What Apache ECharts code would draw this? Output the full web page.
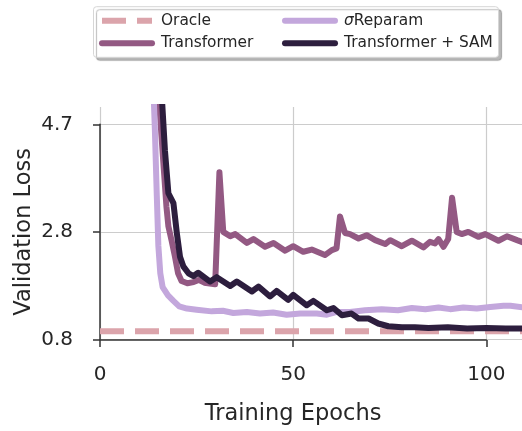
<!DOCTYPE html>
<html><head><meta charset="utf-8">
<script src="https://cdn.jsdelivr.net/npm/echarts@6/dist/echarts.min.js"></script>
<style>html,body{margin:0;padding:0;background:#fff}#c{width:522px;height:431px}</style>
</head><body><div id="c"></div>
<script>
const seriesNames = ['Oracle', 'Transformer', 'σReparam', 'Transformer + SAM'];
const xTicks = [0, 50, 100];
const yTickValues = [0.8, 2.75, 4.7];
const yTickLabels = ['0.8', '2.8', '4.7'];

const oracleEpochs = [0, 109.5];
const oracleLoss = [0.95, 0.95];

const transformerEpochs = [14.0, 15.6, 16.5, 17.2, 17.7, 18.5, 19.4, 20.2, 21.1, 22.6, 24.2, 25.5, 27.0, 29.8,
  30.9, 31.9, 33.7, 35.0, 38.0, 39.7, 42.7, 44.9, 47.9, 50.0, 52.6, 54.8, 58.2, 60.0, 61.2,
  62.1, 63.4, 64.7, 66.9, 69.0, 71.2, 73.8, 75.1, 78.1, 80.7, 83.7, 85.4, 86.7, 87.6, 88.9,
  90.1, 91.1, 92.3, 93.6, 95.3, 97.9, 99.7, 103.1, 105.3, 107.9, 109.5];
const transformerLoss = [6.5, 4.8, 3.9, 3.2, 2.85, 2.6, 2.3, 2.0, 1.86, 1.82, 1.84, 1.88, 1.83, 1.80,
  3.83, 2.75, 2.67, 2.71, 2.55, 2.62, 2.48, 2.55, 2.41, 2.49, 2.39, 2.43, 2.33, 2.42, 2.45,
  3.03, 2.73, 2.71, 2.63, 2.69, 2.60, 2.53, 2.60, 2.49, 2.59, 2.47, 2.57, 2.54, 2.62, 2.48,
  2.62, 3.37, 2.75, 2.71, 2.75, 2.66, 2.71, 2.59, 2.67, 2.60, 2.56];

const reparamEpochs = [13.5, 14.2, 14.7, 15.1, 15.6, 16.2, 17.6, 19.0, 20.5, 22.5, 25.0, 28.9, 31.8, 34.5,
  38.0, 41.4, 44.8, 48.3, 51.8, 56.1, 58.7, 61.3, 64.7, 68.6, 72.9, 77.1, 80.7, 84.2, 87.6,
  90.6, 94.0, 97.5, 101.0, 104.4, 106.2, 109.5];
const reparamLoss = [6.0, 4.6, 3.4, 2.5, 2.0, 1.75, 1.60, 1.50, 1.40, 1.36, 1.34, 1.31, 1.32, 1.28,
  1.30, 1.27, 1.29, 1.25, 1.27, 1.27, 1.25, 1.30, 1.30, 1.33, 1.35, 1.33, 1.37, 1.35, 1.38,
  1.35, 1.38, 1.36, 1.39, 1.41, 1.41, 1.38];

const samEpochs = [15.5, 16.8, 17.7, 19.0, 19.9, 20.7, 21.6, 22.9, 24.2, 25.4, 28.5, 30.2, 33.7, 35.4,
  39.3, 41.0, 44.0, 45.7, 48.7, 50.0, 53.5, 55.2, 58.7, 60.4, 62.6, 65.1, 66.9, 69.5, 72.0,
  74.6, 78.1, 81.5, 85.0, 90.0, 95.0, 100.0, 105.0, 109.5];
const samLoss = [5.8, 4.23, 3.45, 3.27, 2.72, 2.30, 2.12, 2.0, 1.95, 2.01, 1.85, 1.93, 1.77, 1.85,
  1.67, 1.76, 1.58, 1.68, 1.52, 1.61, 1.42, 1.50, 1.33, 1.37, 1.24, 1.27, 1.18, 1.18, 1.09,
  1.04, 1.02, 1.02, 1.01, 1.02, 1.00, 1.01, 1.00, 1.00];

const colors = ['#dba4ab', '#935983', '#c3a7dc', '#2d1e3e'];
const pairs = (xs, ys) => xs.map((x, i) => [x, ys[i]]);
const FONT = 'DejaVu Sans';
const TXT = '#262626';

const chart = echarts.init(document.getElementById('c'), null, {renderer: 'canvas'});
const lineSeries = (name, xs, ys, color, extra) => Object.assign({
  name, type: 'line', xAxisIndex: 0, yAxisIndex: 0, data: pairs(xs, ys),
  symbol: 'none', showSymbol: false, clip: true, animation: false,
  lineStyle: {color, width: 6, cap: 'round', join: 'round'},
  itemStyle: {color}
}, extra || {});

const legendCommon = {
  orient: 'vertical', padding: 0, itemWidth: 50, itemHeight: 16, itemGap: 6.6,
  top: 12.7,
  textStyle: {fontFamily: FONT, fontSize: 15.4, color: TXT, lineHeight: 16, padding: [0, 0, 0, 4],
    rich: {i: {fontFamily: FONT, fontSize: 15.4, fontStyle: 'italic', color: TXT}}},
  lineStyle: {width: 6},
  itemStyle: {opacity: 0},
  formatter: n => n === 'σReparam' ? '{i|σ}Reparam' : n,
  selectedMode: false
};

chart.setOption({
  animation: false,
  backgroundColor: '#fff',
  graphic: [{
    type: 'rect', z: -10,
    shape: {x: 93.5, y: 6.7, width: 405, height: 50.6, r: 3},
    style: {fill: '#fff', stroke: '#d6d6d6', lineWidth: 1,
      shadowColor: 'rgba(0,0,0,0.28)', shadowOffsetX: 3, shadowOffsetY: 3, shadowBlur: 1}
  }],
  legend: [
    Object.assign({}, legendCommon, {left: 99, data: [seriesNames[0], seriesNames[1]]}),
    Object.assign({}, legendCommon, {left: 282, data: [seriesNames[2], seriesNames[3]]})
  ],
  grid: [
    {left: 100, right: 0, top: 107, height: 250},
    {left: 100, top: 107, width: 386.3, height: 250},
    {left: 100, right: 0, top: 124.3, height: 215.2}
  ],
  xAxis: [
    {gridIndex: 0, type: 'value', min: 0, max: 109.2, show: false},
    {gridIndex: 1, type: 'value', min: xTicks[0], max: xTicks[xTicks.length - 1], interval: xTicks[1] - xTicks[0],
      position: 'bottom', offset: 14,
      axisLine: {show: true, lineStyle: {color: '#333', width: 1.5}},
      axisTick: {show: true, inside: false, length: 7, lineStyle: {color: '#333', width: 1.5}},
      axisLabel: {show: true, margin: 11, fontFamily: FONT, fontSize: 20, color: TXT},
      splitLine: {show: true, lineStyle: {color: '#cccccc', width: 1.2}},
      name: 'Training Epochs', nameLocation: 'middle', nameGap: 49, nameMoveOverlap: false,
      nameTextStyle: {fontFamily: FONT, fontSize: 22.5, color: TXT}},
    {gridIndex: 2, type: 'value', min: 0, max: 1, show: false}
  ],
  yAxis: [
    {gridIndex: 0, type: 'value', min: 0.483, max: 5.013, show: false},
    {gridIndex: 1, type: 'value', min: 0, max: 1, show: false},
    {gridIndex: 2, type: 'value', min: yTickValues[0], max: yTickValues[yTickValues.length - 1],
      interval: yTickValues[1] - yTickValues[0],
      position: 'left', offset: 14,
      axisLine: {show: true, lineStyle: {color: '#333', width: 1.5}},
      axisTick: {show: true, inside: false, length: 7, lineStyle: {color: '#333', width: 1.5}},
      axisLabel: {show: true, margin: 13, fontFamily: FONT, fontSize: 20, color: TXT,
        formatter: (v, i) => yTickLabels[i]},
      splitLine: {show: true, lineStyle: {color: '#cccccc', width: 1.2}},
      name: 'Validation Loss', nameLocation: 'middle', nameGap: 50, nameMoveOverlap: false,
      nameTextStyle: {fontFamily: FONT, fontSize: 22.5, color: TXT}}
  ],
  series: [
    lineSeries(seriesNames[0], oracleEpochs, oracleLoss, colors[0],
      {lineStyle: {color: colors[0], width: 6, type: [24, 11], cap: 'butt'}}),
    lineSeries(seriesNames[1], transformerEpochs, transformerLoss, colors[1]),
    lineSeries(seriesNames[2], reparamEpochs, reparamLoss, colors[2]),
    lineSeries(seriesNames[3], samEpochs, samLoss, colors[3])
  ]
});
</script>
</body></html>
